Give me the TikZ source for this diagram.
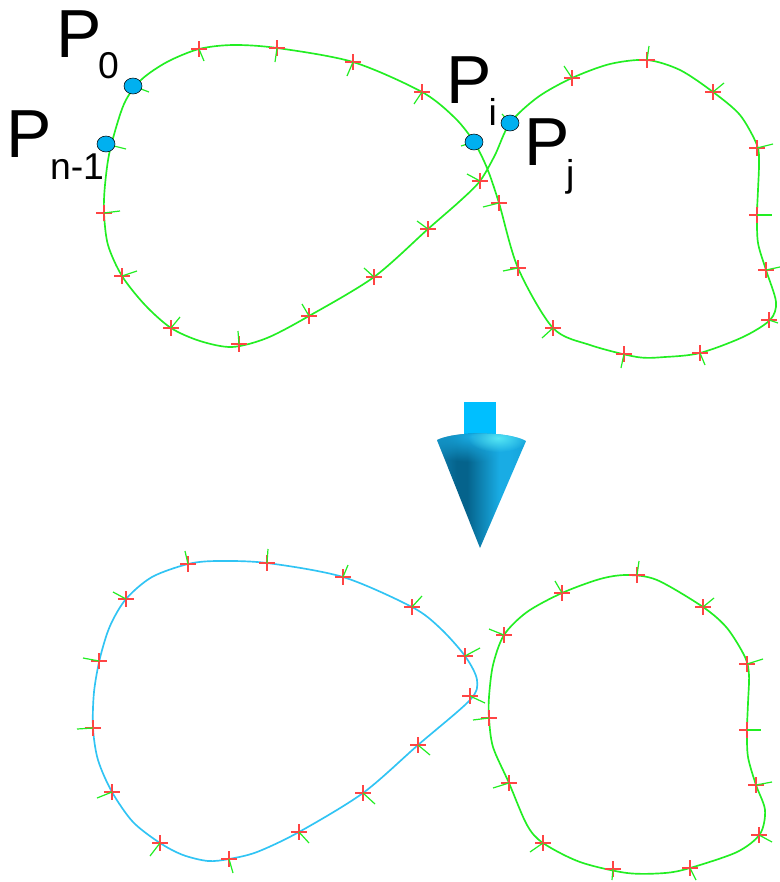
\documentclass[tikz,border=0pt]{standalone}
\usepackage{fontspec}
\setmainfont{Liberation Sans}
\usetikzlibrary{fadings}
\definecolor{curvegreen}{HTML}{22EE22}
\definecolor{curveblue}{HTML}{30C4F4}
\definecolor{crossred}{HTML}{FF4444}
\definecolor{dotblue}{HTML}{00B0F0}
\definecolor{shaftblue}{HTML}{00BFFF}
\definecolor{coneedge}{HTML}{1490C4}
\definecolor{conedark}{HTML}{05638C}
\definecolor{conelight}{HTML}{19ACE4}
\definecolor{coneend}{HTML}{0A8CBE}
\definecolor{coneglow}{HTML}{55E6F4}
\tikzfading[name=glowfade, inner color=transparent!0, outer color=transparent!100]
\pgfdeclarehorizontalshading{coneshade}{100bp}{
  color(0bp)=(coneedge); color(18bp)=(coneedge); color(36bp)=(conedark);
  color(42bp)=(conedark); color(60bp)=(conelight); color(66bp)=(conelight); color(100bp)=(coneend)}
\newcommand{\crossmarks}[1]{%
  \foreach \px/\py/\tx/\ty in {#1}{%
    \draw[crossline] (\px-8,\py) -- (\px+8,\py) (\px,\py-8) -- (\px,\py+8);
    \draw[tickline] (\px,\py) -- (\tx,\ty);
  }}
\tikzset{
  crossline/.style={crossred, line width=0.85pt},
  tickline/.style={curvegreen, line width=0.9pt},
  greenloop/.style={curvegreen, line width=1.25pt, line join=round},
  blueloop/.style={curveblue, line width=1.25pt, line join=round},
  ptdot/.style={draw=black, line width=0.4pt, fill=dotblue},
  bigP/.style={anchor=base west, inner sep=0pt, outer sep=0pt, font=\fontsize{51}{51}\selectfont},
  subP/.style={anchor=base west, inner sep=0pt, outer sep=0pt, font=\fontsize{28}{28}\selectfont},
}
\begin{document}
\begin{tikzpicture}[x=0.75pt,y=-0.75pt]
\useasboundingbox (0,0) rectangle (780,882);
\fill[white] (0,0) rectangle (780,882);

% Upper figure: a single self-crossing loop
\draw[greenloop] plot[smooth cycle, tension=0.5] coordinates {
  (141,80) (167,62) (199,49) (233,45) (277,48) (353,62) (422,92) (455,118) (474,142) (487,168) (499,203) (518,268)
  (553,328) (590,345) (637,357) (665,357) (700,353) (743,337) (770,320) (776,302) (766,270) (758,243) (757,215) (758,190) (759,163) (757,145)
  (740,115) (713,92) (680,70) (647,60) (610,64) (572,78) (538,97) (510,123) (495,155) (480,181) (460,201) (428,229) (374,277) (309,316)
  (267,338) (232,347) (200,341) (171,328) (145,305) (122,276) (108,245) (104,213) (105,185) (110,150) (124,104)};
\crossmarks{133/86/149/92,199/49/204/61,277/48/275/62,353/62/347/76,422/92/414/104,474/142/461/146,
  499/203/483/207,518/268/503/271,553/328/542/338,624/354/621/368,700/353/705/365,769/320/778/323,
  766/270/780/267,757/215/772/215,757/148/773/144,713/92/724/83,647/60/649/46,572/78/564/66,
  510/123/502/114,480/181/467/174,428/229/417/221,374/277/364/268,309/316/302/304,239/344/238/331,
  171/328/180/317,122/276/137/271,104/213/120/211,106/144/126/149}

\path (133,86) coordinate (p0) (106,144) coordinate (pn) (474,142) coordinate (pi) (510,123) coordinate (pj);
\draw[ptdot] (p0) ellipse [x radius=9, y radius=8];
\draw[ptdot] (pn) ellipse [x radius=9, y radius=8];
\draw[ptdot] (pi) ellipse [x radius=9, y radius=8];
\draw[ptdot] (pj) ellipse [x radius=9, y radius=8];

\node[bigP] (lp0) at (56,57) {P};
\node[subP] (ls0) at (98,78) {0};
\node[bigP] (lpn) at (7,157) {P};
\node[subP] (lsn) at (50,179) {n-1};
\node[bigP] (lpi) at (446,103) {P};
\node[subP] (lsi) at (488.5,125) {i};
\node[bigP] (lpj) at (524,165) {P};
\node[subP] (lsj) at (566,186) {j};

% Arrow
\fill[shaftblue] (464,402) rectangle (496,435);
\begin{scope}
  \clip (437,440) .. controls (455,431) and (508,431) .. (526,441) -- (480,548) -- cycle;
  \shade[shading=coneshade] (437,430) rectangle (526,550);
  \fill[conelight, path fading=glowfade] (472,436) ellipse [x radius=60, y radius=26];
  \fill[coneglow, path fading=glowfade] (498,438) ellipse [x radius=30, y radius=14];
\end{scope}

% Lower figure: left (blue) loop
\draw[blueloop] plot[smooth cycle, tension=0.5] coordinates {
  (188,564) (217,561) (267,563) (343,577) (412,607) (440,628) (465,656) (477,680) (470,700) (418,745) (363,793) (299,832)
  (257,852) (229,859) (208,861) (183,855) (160,843) (133,822) (112,792) (98,760) (93,728) (94,692) (100,658) (110,626) (126,599) (152,577)};
\crossmarks{188/564/185/551,267/563/268/549,343/577/348/565,412/607/422/596,465/656/480/648,470/696/485/703,
  418/745/430/755,363/793/375/804,299/832/309/843,229/859/233/873,160/843/150/856,112/792/97/798,
  93/728/77/729,99/661/83/658,126/599/113/592}

% Lower figure: right (green) loop
\draw[greenloop] plot[smooth cycle, tension=0.5] coordinates {
  (627,575) (657,580) (703,607) (727,628) (745,657) (749,675) (748,703) (747,730) (748,757) (756,785) (765,810) (760,834) (737,852) (690,868)
  (665,873) (627,873) (580,862) (543,843) (527,825) (509,783) (493,747) (489,718) (489,697) (493,665) (504,635) (527,612) (562,593) (600,579)};
\crossmarks{637/575/639/561,703/607/714/598,747/664/763/659,747/730/761/730,756/785/772/782,759/835/772/842,
  690/868/696/880,613/869/612/880,543/843/530/852,509/783/493/788,489/718/473/720,504/635/489/629,562/593/555/581}
\end{tikzpicture}
\end{document}
